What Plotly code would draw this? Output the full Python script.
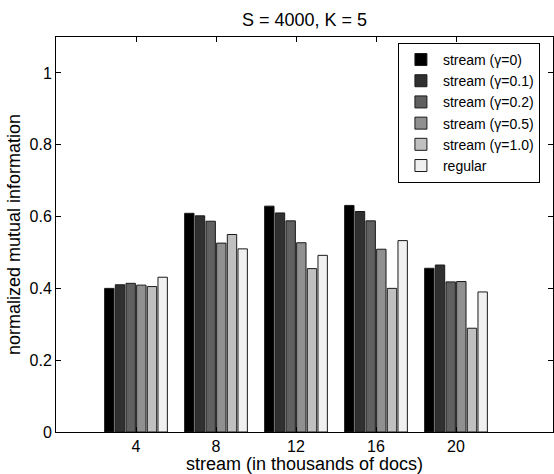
import plotly.graph_objects as go

# stream size (thousands of docs)
stream_k = [4, 8, 12, 16, 20]
tick_labels = ["4", "8", "12", "16", "20"]

# normalized mutual information per method
nmi_g0 = [0.400, 0.609, 0.629, 0.631, 0.456]
nmi_g01 = [0.410, 0.602, 0.610, 0.614, 0.465]
nmi_g02 = [0.414, 0.587, 0.588, 0.588, 0.418]
nmi_g05 = [0.409, 0.526, 0.527, 0.509, 0.419]
nmi_g10 = [0.405, 0.550, 0.455, 0.400, 0.289]
nmi_regular = [0.431, 0.510, 0.492, 0.533, 0.390]

series_names = ["stream (γ=0)", "stream (γ=0.1)", "stream (γ=0.2)",
                "stream (γ=0.5)", "stream (γ=1.0)", "regular"]
series_values = [nmi_g0, nmi_g01, nmi_g02, nmi_g05, nmi_g10, nmi_regular]
series_colors = ["#000000", "#303030", "#606060", "#909090", "#c0c0c0", "#f0f0f0"]

FONT = "Liberation Sans, Arial, Helvetica, sans-serif"

fig = go.Figure()
for name, vals, col in zip(series_names, series_values, series_colors):
    fig.add_trace(go.Bar(
        x=stream_k, y=vals, name=name,
        marker=dict(color=col, line=dict(color="#1a1a1a", width=1)),
    ))

axis_common = dict(
    showline=True, linecolor="#000000", linewidth=1, mirror="allticks",
    ticks="inside", ticklen=5, tickcolor="#000000", tickwidth=1,
    showgrid=False, zeroline=False,
    tickfont=dict(family=FONT, size=16, color="#000000"),
)

fig.update_layout(
    width=554, height=474,
    margin=dict(l=56, r=1, t=37, b=42),
    paper_bgcolor="white", plot_bgcolor="white",
    barmode="group", bargap=0.2, bargroupgap=0.12,
    font=dict(family=FONT, size=16, color="#000000"),
    title=dict(text="S = 4000, K = 5", x=0.5, xref="paper", xanchor="center",
               y=1, yref="container", yanchor="top", pad=dict(t=13),
               font=dict(family=FONT, size=18, color="#000000")),
    xaxis=dict(axis_common, range=[0, 24.85], tickvals=stream_k, ticktext=tick_labels,
               title=dict(text="stream (in thousands of docs)", standoff=1,
                          font=dict(family=FONT, size=18, color="#000000"))),
    yaxis=dict(axis_common, range=[0, 1.1], tickvals=[0, 0.2, 0.4, 0.6, 0.8, 1.0],
               ticktext=["0", "0.2", "0.4", "0.6", "0.8", "1"],
               title=dict(text="normalized mutual information", standoff=4,
                          font=dict(family=FONT, size=18, color="#000000"))),
    legend=dict(x=0.688, y=0.985, xanchor="left", yanchor="top",
                bgcolor="white", bordercolor="#000000", borderwidth=1,
                font=dict(family=FONT, size=14, color="#000000"),
                tracegroupgap=0, itemwidth=34),
    showlegend=True,
)

fig.write_html("out.html")
